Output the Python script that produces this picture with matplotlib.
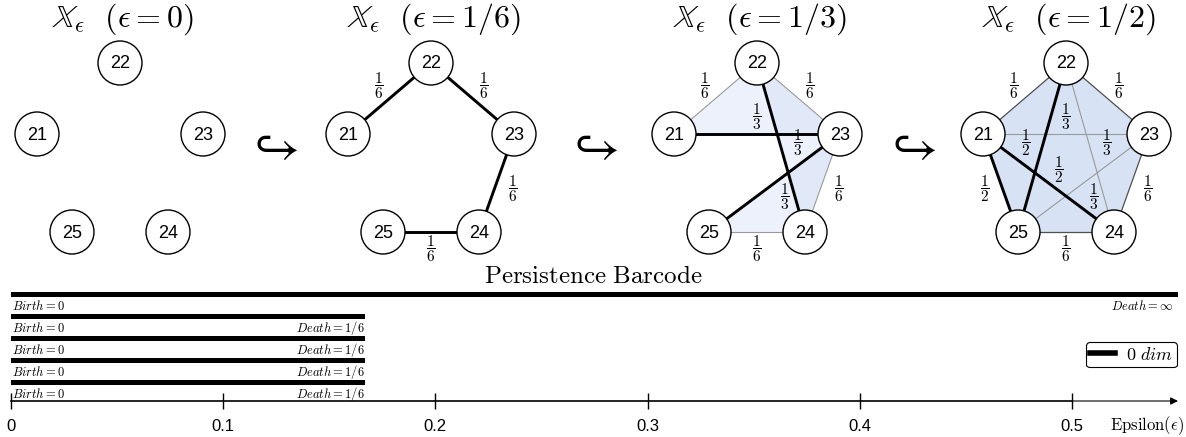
import numpy as np
import matplotlib.pyplot as plt
from matplotlib.patches import Circle, Polygon
from matplotlib.lines import Line2D
from itertools import combinations

plt.rcParams['mathtext.fontset'] = 'cm'

# --- Vietoris-Rips filtration data ---
node_ids = [21, 22, 23, 24, 25]
edges = [(21, 22), (22, 23), (23, 24), (24, 25),
         (21, 23), (22, 24), (23, 25),
         (21, 24), (25, 22), (25, 21)]
edge_weights = [1/6, 1/6, 1/6, 1/6, 1/3, 1/3, 1/3, 1/2, 1/2, 1/2]
edge_labels = [r'$\dfrac{1}{6}$'] * 4 + [r'$\dfrac{1}{3}$'] * 3 + [r'$\dfrac{1}{2}$'] * 3
epsilons = [0, 1/6, 1/3, 1/2]
eps_labels = ['0', '1/6', '1/3', '1/2']

# --- barcode data ---
births = [0, 0, 0, 0, 0]
deaths = [np.inf, 1/6, 1/6, 1/6, 1/6]
death_labels = [r'\infty', '1/6', '1/6', '1/6', '1/6']
ticks = [0, 0.1, 0.2, 0.3, 0.4, 0.5]
tick_labels = ['0', '0.1', '0.2', '0.3', '0.4', '0.5']

W, H = 1186, 437
fig = plt.figure(figsize=(W / 100, H / 100), dpi=100)

# top part drawn in pixel coordinates
ax = fig.add_axes([0, 0, 1, 1])
ax.set_xlim(0, W)
ax.set_ylim(H, 0)
ax.axis('off')

layout = {22: (0, 63), 21: (-83, 134), 23: (83, 134), 25: (-48, 232), 24: (48, 232)}
panel_x = [120, 431, 757, 1066]
arrow_x = [272, 592, 910]
R = 22
age_style = {0: ('black', 2.1), 1: ('#9a9a9a', 0.8), 2: ('#505050', 0.9)}

for k, eps in enumerate(epsilons):
    cx = panel_x[k]
    pos = {n: (cx + layout[n][0], layout[n][1]) for n in node_ids}
    present = [i for i, w in enumerate(edge_weights) if w <= eps + 1e-9]
    eset = {frozenset(edges[i]) for i in present}
    tris = [t for t in combinations(node_ids, 3)
            if all(frozenset(p) in eset for p in combinations(t, 2))]
    if len(tris) == 10:
        pts = np.array([pos[n] for n in node_ids])
        c = pts.mean(axis=0)
        order = np.argsort(np.arctan2(pts[:, 1] - c[1], pts[:, 0] - c[0]))
        ax.add_patch(Polygon(pts[order], closed=True, facecolor='#d7e2f5',
                             edgecolor='none', zorder=0))
    else:
        for t in tris:
            ax.add_patch(Polygon([pos[n] for n in t], closed=True,
                                 facecolor=(0.80, 0.85, 0.96), alpha=0.35,
                                 edgecolor='none', zorder=0))
    for i in present:
        u, v = edges[i]
        lvl = int(np.argmin([abs(edge_weights[i] - e) for e in epsilons]))
        col, lw = age_style[min(k - lvl, 2)]
        (x1, y1), (x2, y2) = pos[u], pos[v]
        ax.plot([x1, x2], [y1, y2], color=col, lw=lw, zorder=1,
                solid_capstyle='butt')
        dx, dy = x2 - x1, y2 - y1
        L = np.hypot(dx, dy)
        nx, ny = dy / L, -dx / L
        ax.text((x1 + x2) / 2 + 17 * nx, (y1 + y2) / 2 + 17 * ny, edge_labels[i],
                fontsize=11, ha='center', va='center', zorder=4)
    for n in node_ids:
        ax.add_patch(Circle(pos[n], R, facecolor='white', edgecolor='black',
                            lw=1.0, zorder=3))
        ax.text(pos[n][0], pos[n][1] + 1, str(n), fontsize=13,
                family='Liberation Sans', ha='center', va='center', zorder=4)
    ax.text(cx + 3, 19, r'$\mathbb{X}_\epsilon\ \ (\epsilon = %s)$' % eps_labels[k],
            fontsize=23, ha='center', va='center')

for x in arrow_x:
    ax.text(x, 148, r'$\hookrightarrow$', fontsize=36, ha='center', va='center')

ax.text(593, 276, r'$\mathrm{Persistence\ Barcode}$', fontsize=18,
        ha='center', va='center')
ax.text(1147, 426, r'$\mathrm{Epsilon}(\epsilon)$', fontsize=12,
        ha='center', va='center')

# barcode axes (0 at x=11 px, 0.5 at x=1072 px)
x0_px, x5_px, xr_px = 11, 1072, 1178
x_per_px = 0.5 / (x5_px - x0_px)
row_px = 22
y_top, y_axis, y_bar0 = 285, 401, 294.5
ax2 = fig.add_axes([x0_px / W, (H - y_axis) / H, (xr_px - x0_px) / W,
                    (y_axis - y_top) / H])
ax2.patch.set_alpha(0)
xmax = (xr_px - x0_px) * x_per_px
ax2.set_xlim(0, xmax)
ax2.set_ylim((y_axis - y_bar0) / row_px, (y_top - y_bar0) / row_px)

rows = np.arange(len(births))
widths = [min(d, xmax) - b for b, d in zip(births, deaths)]
ax2.barh(rows, widths, left=births, height=0.23, color='black')
for i, (b, d) in enumerate(zip(births, deaths)):
    ax2.text(b + 0.0003, i + 0.52, r'$Birth = %g$' % b, fontsize=9,
             ha='left', va='center')
    dx = (1173 - x0_px) * x_per_px if np.isinf(d) else d
    ax2.text(dx, i + 0.52, r'$Death = %s$' % death_labels[i], fontsize=9,
             ha='right', va='center')

for s in ['top', 'left', 'right']:
    ax2.spines[s].set_visible(False)
ax2.spines['bottom'].set_bounds(0, 0.5)
ax2.spines['bottom'].set_linewidth(1.2)
ax2.annotate('', xy=(1.0, 0), xytext=(0.5 / xmax, 0),
             xycoords='axes fraction',
             arrowprops=dict(arrowstyle='-|>', color='black', lw=0.8,
                             mutation_scale=11, shrinkA=0, shrinkB=0))
ax2.set_yticks([])
ax2.set_xticks(ticks)
ax2.set_xticklabels(tick_labels, family='Liberation Sans')
ax2.tick_params(axis='x', direction='inout', length=12, width=1, pad=7,
                labelsize=12)

leg = ax2.legend(handles=[Line2D([], [], color='black', lw=4)],
                 labels=[r'$0\ dim$'], loc='upper right',
                 bbox_to_anchor=(1177 / W, 1 - 342 / H),
                 bbox_transform=fig.transFigure, fontsize=13, frameon=True,
                 fancybox=True, edgecolor='black', framealpha=1,
                 borderpad=0.2, handlelength=1.4, handletextpad=0.6,
                 borderaxespad=0)
leg.get_frame().set_linewidth(0.8)

fig.savefig('out.png', dpi=100)
